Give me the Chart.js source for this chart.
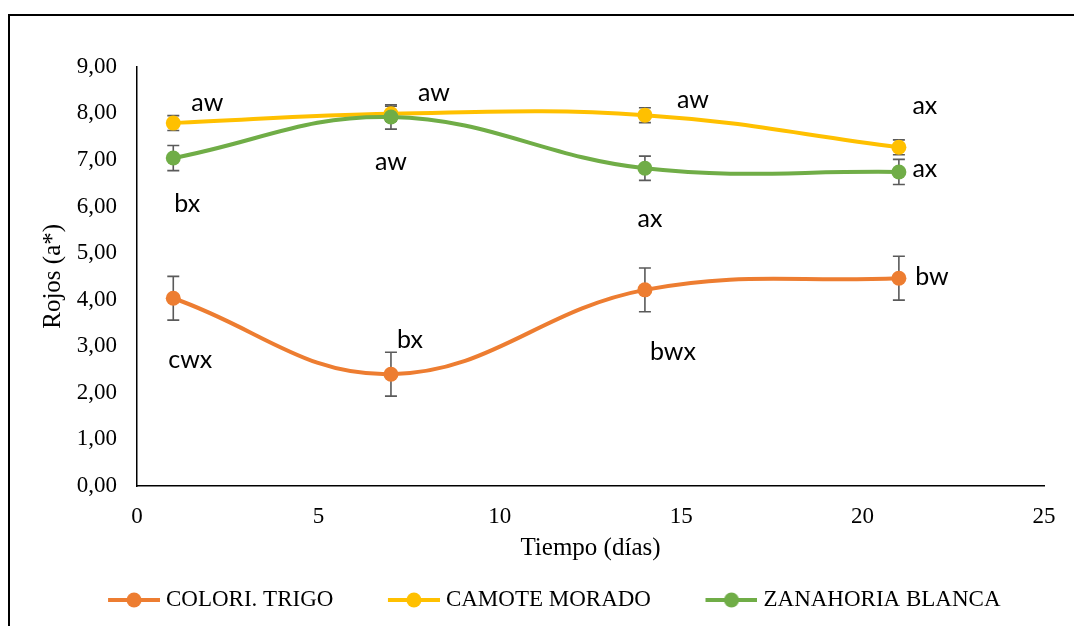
<!DOCTYPE html>
<html>
<head>
<meta charset="utf-8">
<script src="https://cdn.jsdelivr.net/npm/chart.js@4.4.0/dist/chart.umd.min.js"></script>
<style>
  html, body { margin: 0; padding: 0; background: #ffffff; }
  #wrap { width: 1074px; height: 626px; position: relative; }
</style>
</head>
<body>
<div id="wrap"><canvas id="c" width="1074" height="626"></canvas></div>
<script>
// Sampling days
const days = [1, 7, 14, 21];

// Series names
const seriesNames = ['COLORI. TRIGO', 'CAMOTE MORADO', 'ZANAHORIA BLANCA'];

// Mean a* values and their standard deviations
const trigo = [4.03, 2.40, 4.21, 4.46];
const trigoErr = [0.47, 0.47, 0.47, 0.47];
const camote = [7.79, 7.99, 7.96, 7.27];
const camoteErr = [0.16, 0.16, 0.16, 0.16];
const zanahoria = [7.04, 7.92, 6.82, 6.74];
const zanahoriaErr = [0.27, 0.26, 0.26, 0.27];

// Significance letters for each point
const trigoLetters = ['cwx', 'bx', 'bwx', 'bw'];
const camoteLetters = ['aw', 'aw', 'aw', 'ax'];
const zanahoriaLetters = ['bx', 'aw', 'ax', 'ax'];

// Axis tick values
const yTickValues = [0, 1, 2, 3, 4, 5, 6, 7, 8, 9];
const xTickValues = [0, 5, 10, 15, 20, 25];

// ---- styling ----
const colors = ['#ED7D31', '#FFC000', '#70AD47'];
const letterOffsets = [
  [[17, 70], [19, -26], [28, 70], [33, 7]],
  [[34, -12], [43, -13], [48, -7], [26, -33]],
  [[14, 54], [0, 53], [5, 59], [26, 5]]
];
const serif = '"Liberation Serif", "Times New Roman", serif';
const LEGEND_BOX = 91;

function legendIcon(color) {
  const w = LEGEND_BOX + 11, h = 18;
  const cv = document.createElement('canvas');
  cv.width = w; cv.height = h;
  const g = cv.getContext('2d');
  g.strokeStyle = color;
  g.lineWidth = 4;
  g.beginPath();
  g.moveTo(w - 52, h / 2);
  g.lineTo(w, h / 2);
  g.stroke();
  g.fillStyle = color;
  g.beginPath();
  g.arc(w - 26, h / 2, 7.5, 0, Math.PI * 2);
  g.fill();
  return cv;
}

const values = [trigo, camote, zanahoria];
const errors = [trigoErr, camoteErr, zanahoriaErr];
const letters = [trigoLetters, camoteLetters, zanahoriaLetters];
const icons = colors.map(legendIcon);

const datasets = seriesNames.map((name, s) => ({
  label: name,
  data: days.map((d, i) => ({ x: d, y: values[s][i] })),
  borderColor: colors[s],
  backgroundColor: colors[s],
  pointBackgroundColor: colors[s],
  pointBorderColor: colors[s],
  pointBorderWidth: 0,
  pointRadius: 7.5,
  borderWidth: 4,
  tension: 0.4,
  fill: false,
  order: 2 - s
}));

// Outer frame of the figure
const framePlugin = {
  id: 'frame',
  afterDraw(chart) {
    const ctx = chart.ctx;
    ctx.save();
    ctx.strokeStyle = '#000';
    ctx.lineWidth = 2;
    ctx.beginPath();
    ctx.moveTo(9, 640);
    ctx.lineTo(9, 15);
    ctx.lineTo(1080, 15);
    ctx.stroke();
    ctx.restore();
  }
};

// Standard deviation whiskers
const errorBarPlugin = {
  id: 'errorBars',
  beforeDatasetsDraw(chart) {
    const ctx = chart.ctx;
    const xs = chart.scales.x, ys = chart.scales.y;
    ctx.save();
    ctx.strokeStyle = '#5a5a5a';
    ctx.lineWidth = 1.6;
    values.forEach((vals, s) => {
      vals.forEach((v, i) => {
        const px = xs.getPixelForValue(days[i]);
        const top = ys.getPixelForValue(v + errors[s][i]);
        const bot = ys.getPixelForValue(v - errors[s][i]);
        ctx.beginPath();
        ctx.moveTo(px, top); ctx.lineTo(px, bot);
        ctx.moveTo(px - 6, top); ctx.lineTo(px + 6, top);
        ctx.moveTo(px - 6, bot); ctx.lineTo(px + 6, bot);
        ctx.stroke();
      });
    });
    ctx.restore();
  }
};

// Significance letters next to each point
const lettersPlugin = {
  id: 'letters',
  afterDatasetsDraw(chart) {
    const ctx = chart.ctx;
    const xs = chart.scales.x, ys = chart.scales.y;
    ctx.save();
    ctx.fillStyle = '#000';
    ctx.font = '25px Lato, "Open Sans", sans-serif';
    ctx.textAlign = 'center';
    ctx.textBaseline = 'alphabetic';
    letters.forEach((row, s) => {
      row.forEach((txt, i) => {
        const px = xs.getPixelForValue(days[i]) + letterOffsets[s][i][0];
        const py = ys.getPixelForValue(values[s][i]) + letterOffsets[s][i][1];
        ctx.fillText(txt, px, py);
      });
    });
    ctx.restore();
  }
};

new Chart(document.getElementById('c'), {
  type: 'line',
  data: { datasets },
  plugins: [errorBarPlugin, lettersPlugin, framePlugin],
  options: {
    responsive: false,
    animation: false,
    devicePixelRatio: 1,
    layout: { padding: { top: 66.7, left: 20, right: 30, bottom: 4.5 } },
    plugins: {
      tooltip: { enabled: false },
      legend: {
        position: 'bottom',
        labels: {
          usePointStyle: true,
          pointStyleWidth: LEGEND_BOX,
          padding: 10,
          color: '#000',
          font: { family: serif, size: 23 },
          generateLabels: (chart) => chart.data.datasets.map((ds, i) => ({
            text: ds.label,
            pointStyle: icons[i],
            fillStyle: ds.backgroundColor,
            strokeStyle: ds.borderColor,
            lineWidth: 0,
            hidden: false,
            datasetIndex: i,
            fontColor: '#000'
          }))
        }
      }
    },
    scales: {
      x: {
        type: 'linear',
        min: 0, max: 25,
        afterBuildTicks: (s) => { s.ticks = xTickValues.map(v => ({ value: v })); },
        grid: { display: false, drawTicks: false },
        border: { display: true, color: '#000', width: 1.5 },
        ticks: { color: '#000', padding: 17, font: { family: serif, size: 23 } },
        title: {
          display: true, text: 'Tiempo (días)', color: '#000',
          font: { family: serif, size: 25 }, padding: { top: 0, bottom: 15.5 }
        },
        afterFit: (s) => { s.height = 92.5; }
      },
      y: {
        type: 'linear',
        min: 0, max: 9,
        afterBuildTicks: (s) => { s.ticks = yTickValues.map(v => ({ value: v })); },
        grid: { display: false, drawTicks: false },
        border: { display: true, color: '#000', width: 1.5 },
        ticks: {
          color: '#000', padding: 20, font: { family: serif, size: 23 },
          callback: (v) => Number(v).toFixed(2).replace('.', ',')
        },
        title: {
          display: true, text: 'Rojos (a*)', color: '#000',
          font: { family: serif, size: 25 }, padding: { top: 18, bottom: 0 }
        },
        afterFit: (s) => { s.width = 117; }
      }
    }
  }
});
</script>
</body>
</html>
